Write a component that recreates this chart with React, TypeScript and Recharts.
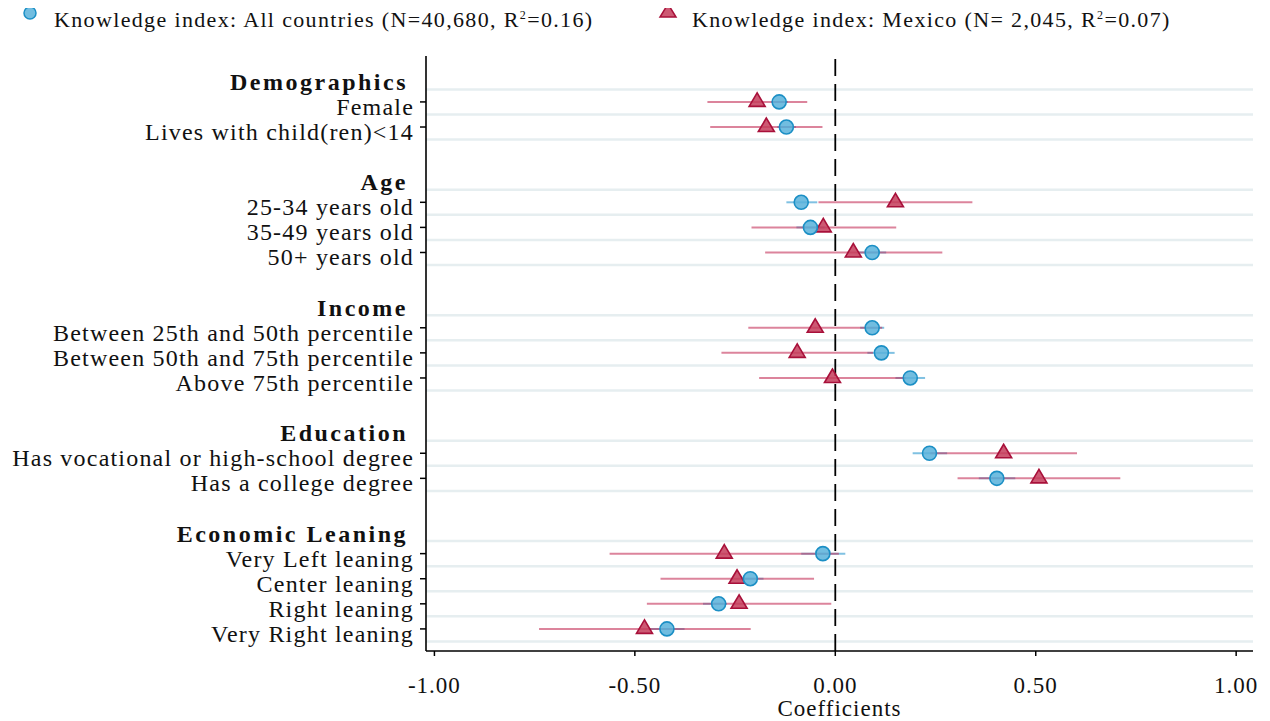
import React from 'react';
import { ComposedChart, Scatter, ErrorBar, XAxis, YAxis, ReferenceLine } from 'recharts';

// groups and variables (rows of the coefficient plot)
const groups = ['Demographics', 'Age', 'Income', 'Education', 'Economic Leaning'];
const variables = [
  'Female',
  'Lives with child(ren)<14',
  '25-34 years old',
  '35-49 years old',
  '50+ years old',
  'Between 25th and 50th percentile',
  'Between 50th and 75th percentile',
  'Above 75th percentile',
  'Has vocational or high-school degree',
  'Has a college degree',
  'Very Left leaning',
  'Center leaning',
  'Right leaning',
  'Very Right leaning',
];
const variableGroup = [0, 0, 1, 1, 1, 2, 2, 2, 3, 3, 4, 4, 4, 4];

// Knowledge index: All countries
const allCoef = [-0.14, -0.122, -0.085, -0.062, 0.092, 0.092, 0.115, 0.187, 0.235, 0.403, -0.031, -0.212, -0.291, -0.42];
const allLow = [-0.16, -0.145, -0.122, -0.097, 0.057, 0.062, 0.08, 0.15, 0.193, 0.358, -0.085, -0.237, -0.33, -0.466];
const allHigh = [-0.118, -0.098, -0.045, -0.027, 0.127, 0.122, 0.148, 0.224, 0.279, 0.449, 0.025, -0.179, -0.27, -0.376];

// Knowledge index: Mexico
const mxCoef = [-0.195, -0.172, 0.15, -0.03, 0.045, -0.05, -0.095, -0.007, 0.42, 0.508, -0.277, -0.245, -0.24, -0.476];
const mxLow = [-0.319, -0.312, -0.042, -0.209, -0.175, -0.217, -0.284, -0.19, 0.237, 0.305, -0.563, -0.436, -0.47, -0.739];
const mxHigh = [-0.07, -0.032, 0.342, 0.152, 0.267, 0.117, 0.094, 0.176, 0.603, 0.711, 0.009, -0.053, -0.01, -0.211];

const xTicks = [-1, -0.5, 0, 0.5, 1];

const FONT = '"Liberation Serif", "Times New Roman", serif';

// row positions: header, items, blank spacer
type Row = { label: string; header: boolean; pos: number };
const rows: Row[] = [];
const itemPos: number[] = [];
const gridPos: number[] = [];
let p = 0;
groups.forEach((g, gi) => {
  rows.push({ label: g, header: true, pos: p });
  gridPos.push(p + 0.5);
  p++;
  variables.forEach((v, vi) => {
    if (variableGroup[vi] !== gi) return;
    rows.push({ label: v, header: false, pos: p });
    itemPos[vi] = p;
    gridPos.push(p + 0.5);
    p++;
  });
  p++;
});

const allData = variables.map((_, i) => ({
  x: allCoef[i],
  row: itemPos[i],
  err: [allCoef[i] - allLow[i], allHigh[i] - allCoef[i]],
}));
const mxData = variables.map((_, i) => ({
  x: mxCoef[i],
  row: itemPos[i],
  err: [mxCoef[i] - mxLow[i], mxHigh[i] - mxCoef[i]],
}));

const noShape = () => <g />;

const Circle = (props: any) => {
  const { cx, cy } = props;
  return <circle cx={cx} cy={cy} r={7} fill="rgba(88,178,218,0.85)" stroke="#1b8fc5" strokeWidth={1.6} />;
};

const Triangle = (props: any) => {
  const { cx, cy } = props;
  return (
    <polygon
      points={`${cx},${cy - 9} ${cx - 8},${cy + 4.5} ${cx + 8},${cy + 4.5}`}
      fill="rgba(196,60,90,0.85)"
      stroke="#a8103a"
      strokeWidth={1.6}
      strokeLinejoin="miter"
    />
  );
};

const YTick = (props: any) => {
  const { x, y, payload } = props;
  const r = rows.find(rr => rr.pos === payload.value);
  if (!r) return null;
  return (
    <g>
      {!r.header && <line x1={x + 2} x2={x + 8} y1={y} y2={y} stroke="#000" strokeWidth={1.5} />}
      <text
        x={r.header ? x - 10 : x - 4}
        y={y}
        dy={13}
        textAnchor="end"
        fontFamily={FONT}
        fontSize={24}
        fontWeight={r.header ? 'bold' : 'normal'}
        letterSpacing={r.header ? 2.5 : 1.2}
        fill="#111"
      >
        {r.label}
      </text>
    </g>
  );
};

const XTick = (props: any) => {
  const { x, y, payload } = props;
  return (
    <text x={x} y={y} dy={35} textAnchor="middle" fontFamily={FONT} fontSize={23} letterSpacing={1} fill="#111">
      {payload.value.toFixed(2)}
    </text>
  );
};

const XLabel = (props: any) => {
  const { viewBox } = props;
  return (
    <text x={viewBox.x + viewBox.width / 2} y={708} textAnchor="middle" fontFamily={FONT} fontSize={23} letterSpacing={1} fill="#111">
      Coefficients
    </text>
  );
};

const legendText: React.CSSProperties = {
  position: 'absolute',
  fontFamily: FONT,
  fontSize: 22,
  letterSpacing: 1.35,
  color: '#111',
  whiteSpace: 'nowrap',
};

export default function App() {
  return (
    <div style={{ position: 'relative', width: 1262, height: 713 }}>
      <svg width={1262} height={40} style={{ position: 'absolute', left: 0, top: -8 }}>
        <circle cx={22} cy={13} r={6} fill="rgba(88,178,218,0.85)" stroke="#1b8fc5" strokeWidth={1.5} />
        <polygon points="660,4 652,17 668,17" fill="rgba(196,60,90,0.85)" stroke="#a8103a" strokeWidth={1.5} />
      </svg>
      <div style={{ ...legendText, left: 46, top: -1 }}>
        Knowledge index: All countries (N=40,680, R<sup style={{ fontSize: 12 }}>2</sup>=0.16)
      </div>
      <div style={{ ...legendText, left: 684, top: -1 }}>
        Knowledge index: Mexico (N= 2,045, R<sup style={{ fontSize: 12 }}>2</sup>=0.07)
      </div>
      <ComposedChart width={1262} height={713} margin={{ top: 48, right: 17, left: 0, bottom: 0 }}>
        <XAxis
          type="number"
          dataKey="x"
          domain={[-1.021, 1.042]}
          ticks={xTicks}
          allowDataOverflow
          axisLine={{ stroke: '#000', strokeWidth: 1.6 }}
          tickLine={{ stroke: '#000', strokeWidth: 1.5 }}
          tickSize={5}
          tickMargin={2}
          height={70}
          tick={<XTick />}
          label={<XLabel />}
        />
        <YAxis
          type="number"
          dataKey="row"
          domain={[-0.83, 22.88]}
          reversed
          allowDataOverflow
          ticks={rows.map(r => r.pos)}
          interval={0}
          width={418}
          tickSize={6}
          tickMargin={2}
          tickLine={false}
          axisLine={{ stroke: '#000', strokeWidth: 1.6 }}
          tick={<YTick />}
        />
        {gridPos.map(g => (
          <ReferenceLine key={g} y={g} stroke="#e6eef0" strokeWidth={2.5} />
        ))}
        <ReferenceLine x={0} stroke="#000" strokeWidth={1.8} strokeDasharray="17 8" />
        <Scatter data={allData} shape={noShape} isAnimationActive={false}>
          <ErrorBar dataKey="err" direction="x" width={0} stroke="rgba(60,160,210,0.65)" strokeWidth={2} isAnimationActive={false} />
        </Scatter>
        <Scatter data={mxData} shape={noShape} isAnimationActive={false}>
          <ErrorBar dataKey="err" direction="x" width={0} stroke="rgba(196,50,90,0.6)" strokeWidth={2} isAnimationActive={false} />
        </Scatter>
        <Scatter data={mxData} shape={<Triangle />} isAnimationActive={false} />
        <Scatter data={allData} shape={<Circle />} isAnimationActive={false} />
      </ComposedChart>
    </div>
  );
}
